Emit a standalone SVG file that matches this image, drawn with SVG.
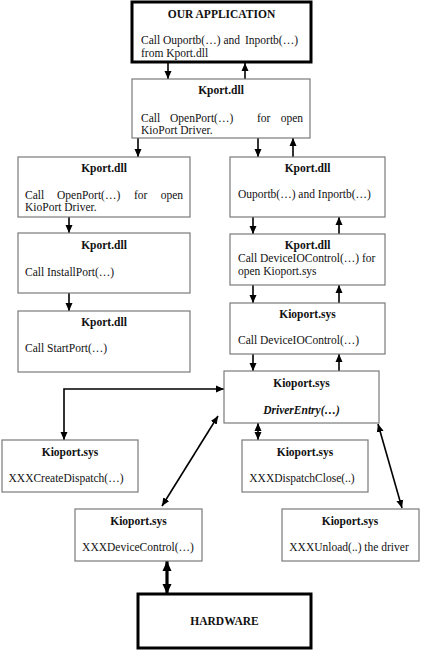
<svg xmlns="http://www.w3.org/2000/svg" width="421" height="650" viewBox="0 0 421 650">
<defs>
<marker id="ah" markerUnits="userSpaceOnUse" markerWidth="8" markerHeight="8" viewBox="0 0 8 8" refX="8" refY="4" orient="auto-start-reverse"><path d="M0,0.5 L8,4 L0,7.5 Z" fill="#000"/></marker>
<marker id="ahb" markerUnits="userSpaceOnUse" markerWidth="10" markerHeight="10" viewBox="0 0 10 10" refX="10" refY="5" orient="auto-start-reverse"><path d="M0,0.5 L10,5 L0,9.5 Z" fill="#000"/></marker>
<style>
.box{fill:#fff;stroke:#7a7a7a;stroke-width:1.2}
.thick{fill:#fff;stroke:#000;stroke-width:3}
text{font-family:"Liberation Serif","Times New Roman",serif;font-size:11.5px;fill:#111}
.t{font-weight:bold;text-anchor:middle}
.c{text-anchor:middle}
.e{text-anchor:end}
.a{fill:none;stroke:#000;stroke-width:1.6;marker-end:url(#ah)}
.d{fill:none;stroke:#000;stroke-width:1.6;marker-start:url(#ah);marker-end:url(#ah)}
.db{fill:none;stroke:#000;stroke-width:3.2;marker-start:url(#ahb);marker-end:url(#ahb)}
</style>
</defs>
<rect width="421" height="650" fill="#fff"/>
<g id="connectors">
<line class="a" x1="168" y1="63" x2="168" y2="79"/>
<line class="a" x1="245" y1="79" x2="245" y2="63"/>
<line class="a" x1="138" y1="138" x2="138" y2="157"/>
<line class="a" x1="258" y1="138" x2="258" y2="157"/>
<line class="a" x1="293" y1="157" x2="293" y2="138"/>
<line class="a" x1="69" y1="217" x2="69" y2="233"/>
<line class="a" x1="69" y1="293" x2="69" y2="311"/>
<line class="a" x1="253" y1="217" x2="253" y2="234"/>
<line class="a" x1="339" y1="234" x2="339" y2="217"/>
<line class="a" x1="253" y1="285" x2="253" y2="303"/>
<line class="a" x1="339" y1="303" x2="339" y2="285"/>
<line class="a" x1="253" y1="354" x2="253" y2="371"/>
<line class="a" x1="339" y1="371" x2="339" y2="354"/>
<path class="d" d="M224,389 H64 V440"/>
<line class="d" x1="258" y1="423" x2="258" y2="440"/>
<line class="d" x1="218" y1="416" x2="162" y2="506"/>
<line class="d" x1="378" y1="424" x2="402" y2="508"/>
<line class="db" x1="167" y1="561" x2="167" y2="594"/>
</g>
<g id="app">
<rect class="thick" x="132" y="2" width="179" height="60"/>
<text class="t" x="221.5" y="18">OUR APPLICATION</text>
<text x="141" y="44">Call Ouportb(…) and</text>
<text class="e" x="298" y="44">Inportb(…)</text>
<text x="141" y="57">from Kport.dll</text>
</g>
<g id="kport-main">
<rect class="box" x="132" y="79" width="178" height="59"/>
<text class="t" x="221" y="94">Kport.dll</text>
<text x="141" y="122">Call</text>
<text x="170" y="122">OpenPort(…)</text>
<text x="257" y="122">for</text>
<text class="e" x="303" y="122">open</text>
<text x="141" y="134">KioPort Driver.</text>
</g>
<g id="kport-open">
<rect class="box" x="18" y="157" width="172" height="60"/>
<text class="t" x="104" y="172">Kport.dll</text>
<text x="25" y="199">Call</text>
<text x="57" y="199">OpenPort(…)</text>
<text x="134" y="199">for</text>
<text class="e" x="183" y="199">open</text>
<text x="25" y="211">KioPort Driver.</text>
</g>
<g id="kport-install">
<rect class="box" x="18" y="233" width="172" height="60"/>
<text class="t" x="104" y="249">Kport.dll</text>
<text x="25" y="276">Call InstallPort(…)</text>
</g>
<g id="kport-start">
<rect class="box" x="18" y="311" width="172" height="61"/>
<text class="t" x="104" y="326">Kport.dll</text>
<text x="25" y="352">Call StartPort(…)</text>
</g>
<g id="kport-io">
<rect class="box" x="230" y="157" width="155" height="60"/>
<text class="t" x="307.5" y="172">Kport.dll</text>
<text x="238" y="198">Ouportb(…) and  Inportb(…)</text>
</g>
<g id="kport-devio">
<rect class="box" x="230" y="234" width="155" height="51"/>
<text class="t" x="307.5" y="249">Kport.dll</text>
<text x="238" y="262">Call DeviceIOControl(…) for</text>
<text x="238" y="275">open Kioport.sys</text>
</g>
<g id="kioport-devio">
<rect class="box" x="230" y="303" width="155" height="51"/>
<text class="t" x="307.5" y="318">Kioport.sys</text>
<text x="238" y="344">Call DeviceIOControl(…)</text>
</g>
<g id="driver-entry">
<rect class="box" x="224" y="371" width="155" height="52"/>
<text class="t" x="301.5" y="387">Kioport.sys</text>
<text class="t" x="301.5" y="414" font-style="italic">DriverEntry(…)</text>
</g>
<g id="create-dispatch">
<rect class="box" x="2" y="440" width="136" height="52"/>
<text class="t" x="70" y="456">Kioport.sys</text>
<text class="c" x="66" y="482">XXXCreateDispatch(…)</text>
</g>
<g id="dispatch-close">
<rect class="box" x="242" y="440" width="126" height="52"/>
<text class="t" x="305" y="456">Kioport.sys</text>
<text class="c" x="302" y="482">XXXDispatchClose(..)</text>
</g>
<g id="device-control">
<rect class="box" x="75" y="509" width="127" height="52"/>
<text class="t" x="138.5" y="525">Kioport.sys</text>
<text class="c" x="138" y="551">XXXDeviceControl(…)</text>
</g>
<g id="unload">
<rect class="box" x="282" y="509" width="137" height="52"/>
<text class="t" x="350" y="525">Kioport.sys</text>
<text class="c" x="349" y="551">XXXUnload(..) the driver</text>
</g>
<g id="hardware">
<rect class="thick" x="138" y="594" width="173" height="54"/>
<text class="t" x="224.5" y="625">HARDWARE</text>
</g>
</svg>
